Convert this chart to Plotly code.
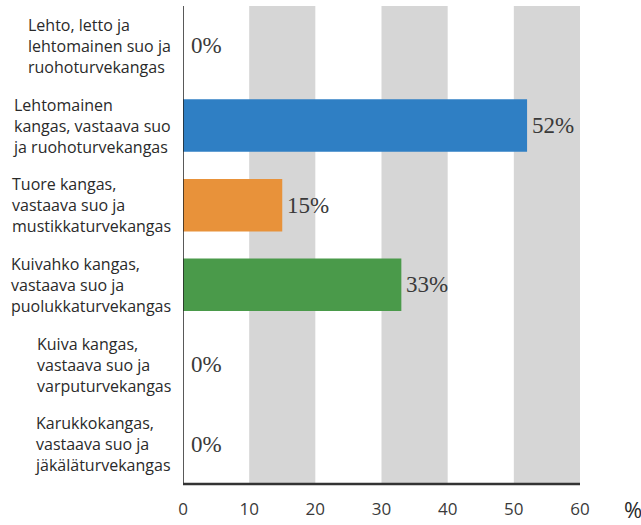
import plotly.graph_objects as go

# Forest site types (Finnish) and their share, %
categories = [
    "Lehto, letto ja<br>lehtomainen suo ja<br>ruohoturvekangas",
    "Lehtomainen<br>kangas, vastaava suo<br>ja ruohoturvekangas",
    "Tuore kangas,<br>vastaava suo ja<br>mustikkaturvekangas",
    "Kuivahko kangas,<br>vastaava suo ja<br>puolukkaturvekangas",
    "Kuiva kangas,<br>vastaava suo ja<br>varputurvekangas",
    "Karukkokangas,<br>vastaava suo ja<br>jäkäläturvekangas",
]
shares = [0, 52, 15, 33, 0, 0]
bar_colors = ["#2f7fc4", "#2f7fc4", "#e8923a", "#4a9a4a", "#4a9a4a", "#4a9a4a"]
x_ticks = [0, 10, 20, 30, 40, 50, 60]

ypos = list(range(len(categories)))

fig = go.Figure()
fig.add_trace(go.Bar(
    x=shares, y=ypos, orientation="h",
    marker=dict(color=bar_colors, line=dict(width=0)),
    width=0.66,
    hoverinfo="skip",
))

# Alternating grey bands behind the bars
shapes = []
for x0 in (10, 30, 50):
    shapes.append(dict(type="rect", xref="x", yref="paper", x0=x0, x1=x0 + 10,
                       y0=0, y1=1, fillcolor="#d6d6d6", line=dict(width=0),
                       layer="below"))
# Left axis line
shapes.append(dict(type="line", xref="x", yref="paper", x0=0, x1=0, y0=0, y1=1,
                   line=dict(color="#222222", width=1.5)))
# Bottom axis line
shapes.append(dict(type="line", xref="x", yref="paper", x0=0, x1=60, y0=0, y1=0,
                   line=dict(color="#333333", width=2.5)))

annotations = []
# Value labels
for i, v in enumerate(shares):
    annotations.append(dict(
        x=v, y=i, xref="x", yref="y", text=f"{v}%", showarrow=False,
        xanchor="left", xshift=6 if v == 0 else 3,
        font=dict(family="Liberation Serif, Times New Roman, serif", size=23, color="#3a3a3a"),
    ))
# Category labels, left-aligned blocks
for i, c in enumerate(categories):
    annotations.append(dict(
        x=0, y=i, xref="paper", yref="y", text=c, showarrow=False,
        xanchor="right", xshift=-10, align="left",
        font=dict(family="Open Sans, Noto Sans, sans-serif", size=16, color="#2a2a2a"),
    ))
# Unit label
annotations.append(dict(
    x=1.0, y=0, xref="paper", yref="paper", text="%", showarrow=False,
    xanchor="left", yanchor="top", xshift=42, yshift=-8,
    font=dict(family="Open Sans, Noto Sans, sans-serif", size=22, color="#2a2a2a"),
))

fig.update_layout(
    width=641, height=525,
    margin=dict(l=183, r=61, t=6, b=41, autoexpand=False),
    paper_bgcolor="white", plot_bgcolor="white",
    showlegend=False,
    shapes=shapes,
    annotations=annotations,
    xaxis=dict(range=[0, 60], tickvals=x_ticks, ticktext=[str(t) for t in x_ticks],
               showgrid=False, zeroline=False, showline=False, automargin=False,
               ticks="outside", ticklen=10, tickcolor="rgba(0,0,0,0)",
               tickfont=dict(family="Open Sans, Noto Sans, sans-serif", size=17, color="#3a3a3a")),
    yaxis=dict(range=[5.5, -0.5], showticklabels=False, showgrid=False,
               zeroline=False, showline=False, ticks="", automargin=False),
)

fig.write_html("out.html")
